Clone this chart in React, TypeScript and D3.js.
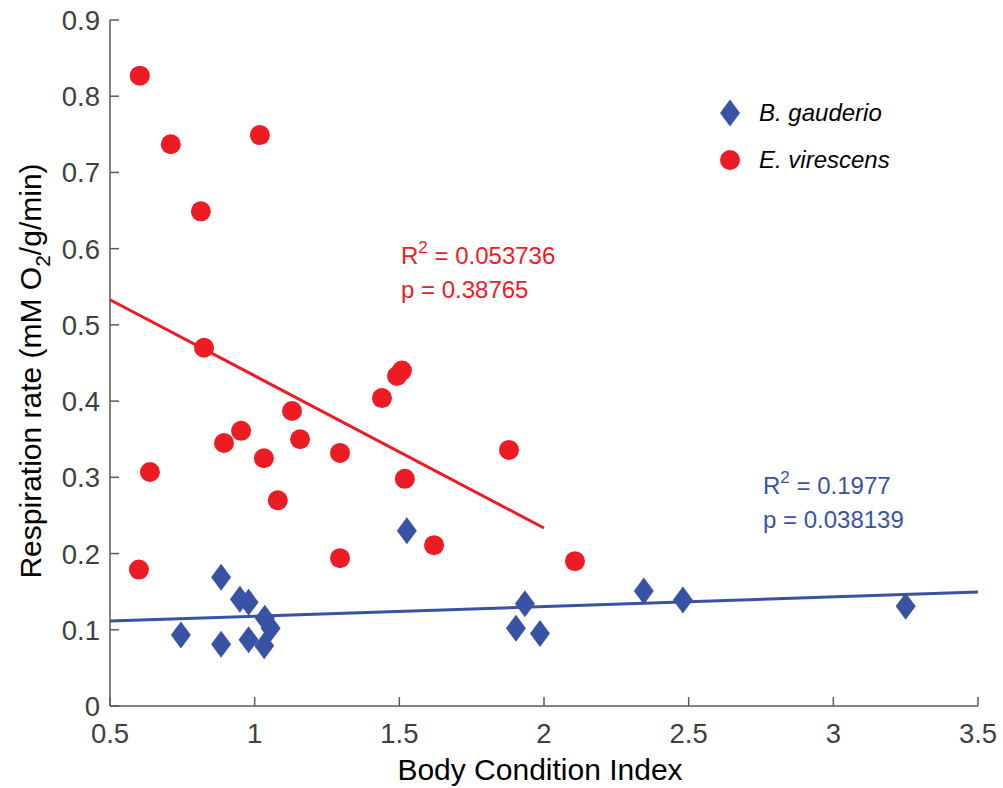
import React from "react";
import * as d3 from "d3";

// E. virescens (red circles)
const redX = [0.603, 0.71, 1.018, 0.814, 0.825, 0.638, 0.6, 0.894, 0.953, 1.032, 1.08, 1.129, 1.157, 1.295, 1.295, 1.44, 1.492, 1.509, 1.519, 1.62, 1.879, 2.107];
const redY = [0.827, 0.737, 0.749, 0.649, 0.47, 0.307, 0.179, 0.345, 0.361, 0.325, 0.27, 0.387, 0.35, 0.332, 0.194, 0.404, 0.433, 0.44, 0.298, 0.211, 0.336, 0.19];
// B. gauderio (blue diamonds)
const blueX = [0.745, 0.884, 0.884, 0.949, 0.979, 0.979, 1.035, 1.055, 1.033, 1.526, 1.903, 1.934, 1.986, 2.345, 2.48, 3.25];
const blueY = [0.093, 0.169, 0.081, 0.14, 0.136, 0.087, 0.115, 0.102, 0.079, 0.23, 0.102, 0.134, 0.095, 0.151, 0.139, 0.131];
// fit lines: [x0, x1], [y0, y1]
const redFitX = [0.5, 2.0];
const redFitY = [0.533, 0.2335];
const blueFitX = [0.5, 3.5];
const blueFitY = [0.1115, 0.1496];

const xTicks = [0.5, 1, 1.5, 2, 2.5, 3, 3.5];
const yTicks = [0, 0.1, 0.2, 0.3, 0.4, 0.5, 0.6, 0.7, 0.8, 0.9];

const RED = "#ED1C24";
const BLUE = "#3953A4";
const FONT = "Arial, 'Liberation Sans', sans-serif";

export default function App() {
  const W = 1003, H = 788;
  const x = d3.scaleLinear().domain([0.5, 3.5]).range([110, 978]);
  const y = d3.scaleLinear().domain([0, 0.9]).range([706, 20]);
  const line = d3.line<[number, number]>().x(d => x(d[0])).y(d => y(d[1]));
  const diamond = (cx: number, cy: number, w = 10, h = 13.5) =>
    `M${cx},${cy - h}L${cx + w},${cy}L${cx},${cy + h}L${cx - w},${cy}Z`;
  const axisColor = "#5a5a5a";
  const tickColor = "#404040";

  return (
    <svg width={W} height={H} style={{ position: "absolute", left: 0, top: 0, background: "#fff" }} fontFamily={FONT}>
      {/* axes */}
      <line x1={110} y1={706} x2={978} y2={706} stroke={axisColor} strokeWidth={1.5} />
      <line x1={110} y1={706} x2={110} y2={20} stroke={axisColor} strokeWidth={1.5} />
      {xTicks.map(t => (
        <g key={"x" + t}>
          <line x1={x(t)} x2={x(t)} y1={706} y2={697} stroke={axisColor} strokeWidth={1.5} />
          <text x={x(t)} y={743} textAnchor="middle" fontSize={27.5} fill={tickColor}>{String(t)}</text>
        </g>
      ))}
      {yTicks.map(t => (
        <g key={"y" + t}>
          <line x1={110} x2={119} y1={y(t)} y2={y(t)} stroke={axisColor} strokeWidth={1.5} />
          <text x={100} y={y(t) + 10} textAnchor="end" fontSize={27.5} fill={tickColor}>{String(t)}</text>
        </g>
      ))}
      <text x={540} y={780} textAnchor="middle" fontSize={30} fill="#000">Body Condition Index</text>
      <text transform="translate(41,371) rotate(-90)" textAnchor="middle" fontSize={30} fill="#000">
        Respiration rate (mM O<tspan fontSize={21} dy={9}>2</tspan><tspan dy={-9}>/g/min)</tspan>
      </text>

      {/* fit lines */}
      <path d={line(redFitX.map((v, i) => [v, redFitY[i]]) as any) || ""} stroke={RED} strokeWidth={3} fill="none" />
      <path d={line(blueFitX.map((v, i) => [v, blueFitY[i]]) as any) || ""} stroke={BLUE} strokeWidth={3} fill="none" />

      {/* points */}
      {redX.map((v, i) => (
        <circle key={"r" + i} cx={x(v)} cy={y(redY[i])} r={10} fill={RED} />
      ))}
      {blueX.map((v, i) => (
        <path key={"b" + i} d={diamond(x(v), y(blueY[i]))} fill={BLUE} />
      ))}

      {/* legend */}
      <path d={diamond(730, 113)} fill={BLUE} />
      <circle cx={730} cy={160} r={10} fill={RED} />
      <text x={759} y={121} fontSize={24} fontStyle="italic" fill="#000">B. gauderio</text>
      <text x={759} y={168} fontSize={24} fontStyle="italic" fill="#000">E. virescens</text>

      {/* annotations */}
      <text x={401} y={264} fontSize={24} fill={RED}>R<tspan fontSize={17} dy={-11}>2</tspan><tspan dy={11}> = 0.053736</tspan></text>
      <text x={401} y={298} fontSize={24} fill={RED}>p = 0.38765</text>
      <text x={763} y={494} fontSize={24} fill={BLUE}>R<tspan fontSize={17} dy={-11}>2</tspan><tspan dy={11}> = 0.1977</tspan></text>
      <text x={763} y={528} fontSize={24} fill={BLUE}>p = 0.038139</text>
    </svg>
  );
}
